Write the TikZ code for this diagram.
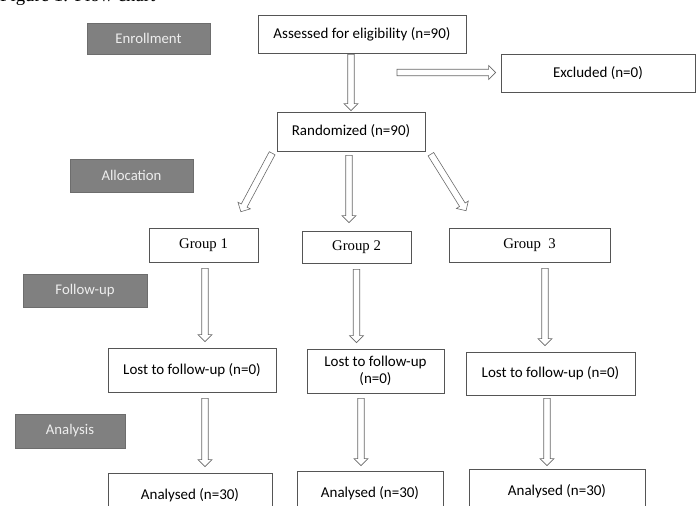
\documentclass[tikz,border=0pt]{standalone}
\usepackage{fontspec}
\setmainfont{Carlito}
\newfontfamily\timesf{Liberation Serif}
\usetikzlibrary{positioning,calc}
\definecolor{edge}{RGB}{85,85,85}
\definecolor{stage}{RGB}{128,128,128}
\definecolor{stagetext}{RGB}{238,238,238}
\definecolor{arrowc}{RGB}{105,105,105}
\tikzset{
  box/.style={draw=edge, line width=0.6pt, fill=white, inner sep=2pt, font=\fontsize{12.8}{15}\selectfont},
  grpbox/.style={box, font=\timesf\fontsize{12.6}{15}\selectfont},
  stagebox/.style={draw=stage!85!black, fill=stage, text=stagetext, line width=0.5pt, font=\fontsize{12.6}{15}\selectfont},
  hollow/.style={draw=arrowc, line width=0.5pt, fill=white, line join=miter}
}
% hollow block arrow between two points, [gap in px]
\newcommand{\hollowarrow}[3][5]{%
  \draw[hollow] let \p1=#2, \p2=#3,
      \n1={atan2(\y2-\y1,\x2-\x1)}, \n2={veclen(\x2-\x1,\y2-\y1)},
      \n3={#1*0.03cm} in
    [shift={(\p1)}, rotate=\n1]
    ({\n3},-2.8pt) -- ({\n2-\n3-6pt},-2.8pt) -- ({\n2-\n3-6pt},-6pt) -- ({\n2-\n3},0pt)
    -- ({\n2-\n3-6pt},6pt) -- ({\n2-\n3-6pt},2.8pt) -- ({\n3},2.8pt) -- cycle;}

\begin{document}
\begin{tikzpicture}[x=0.03cm, y=-0.03cm]
  \useasboundingbox (0,0) rectangle (700,506);
  \clip (0,0) rectangle (700,506);
  % caption, cut at the top
  \node[anchor=south west, inner sep=0pt, font=\timesf\fontsize{16}{18}\selectfont] (cap) at (0,6) {Figure 1: Flow chart};
  % stages
  \node[stagebox, minimum width=123*0.03cm, minimum height=31*0.03cm] (enro) at (148.5,38.5) {Enrollment};
  \node[stagebox, minimum width=123*0.03cm, minimum height=33*0.03cm] (allo) at (131.5,175.5) {Allocation};
  \node[stagebox, minimum width=124*0.03cm, minimum height=33*0.03cm] (foll) at (85,290.5) {Follow-up};
  \node[stagebox, minimum width=110*0.03cm, minimum height=34*0.03cm] (anal) at (70,431) {Analysis};
  % enrollment
  \node[box, minimum width=208*0.03cm, minimum height=38*0.03cm] (asse) at (362,34) {Assessed for eligibility (n=90)};
  \node[box, minimum width=194*0.03cm, minimum height=38*0.03cm] (excl) at (598,73) {Excluded (n=0)};
  \node[box, minimum width=148*0.03cm, minimum height=39*0.03cm] (rand) at (351,131.5) {Randomized (n=90)};
  % groups
  \node[grpbox, minimum width=109*0.03cm, minimum height=34*0.03cm] (g1) at (203.5,245) {Group 1};
  \node[grpbox, minimum width=109*0.03cm, minimum height=32*0.03cm] (g2) at (356.5,247) {Group 2};
  \node[grpbox, minimum width=161*0.03cm, minimum height=34*0.03cm] (g3) at (529.5,245) {Group\ \ 3};
  % follow-up
  \node[box, minimum width=168*0.03cm, minimum height=44*0.03cm] (l1) at (192,370) {Lost to follow-up (n=0)};
  \node[box, minimum width=137*0.03cm, minimum height=44*0.03cm, align=center] (l2) at (375.5,371) {Lost to follow-up\\(n=0)};
  \node[box, minimum width=169*0.03cm, minimum height=43*0.03cm] (l3) at (550.5,373.5) {Lost to follow-up (n=0)};
  % analysis
  \node[box, minimum width=164*0.03cm, minimum height=44*0.03cm] (a1) at (190,495) {Analysed (n=30)};
  \node[box, minimum width=146*0.03cm, minimum height=44*0.03cm] (a2) at (370,493) {Analysed (n=30)};
  \node[box, minimum width=176*0.03cm, minimum height=44*0.03cm] (a3) at (557,491) {Analysed (n=30)};
  % connectors
  \coordinate (exs) at (392,72.5);
  \coordinate (g1a) at ($(g1.south)+(1.5,0)$);
  \coordinate (g3a) at ($(g3.south)+(15.5,0)$);
  \coordinate (l1a) at (g1a |- l1.south);
  \coordinate (l2a) at ($(l2.south)+(-14.5,0)$);
  \coordinate (l3a) at ($(l3.south)+(-3.5,0)$);
  \hollowarrow[1]{(asse.south -| rand.north)}{(rand.north)}
  \hollowarrow{(exs)}{($(excl.west)+(0,-0.5)$)}
  \hollowarrow[1]{($(rand.south west)+(-4,1)$)}{($(g1.north east)+(-18,-15)$)}
  \hollowarrow[4]{($(rand.south)+(-2,0)$)}{($(g2.north)+(-7.5,-4)$)}
  \hollowarrow[1]{($(rand.south east)+(5,2)$)}{($(g3.north west)+(18,-16)$)}
  \hollowarrow[6]{(g1a)}{(g1a |- l1.north)}
  \hollowarrow[6]{(g2.south)}{(g2.south |- l2.north)}
  \hollowarrow[6]{(g3a)}{(g3a |- l3.north)}
  \hollowarrow[6]{(l1a)}{(l1a |- a1.north)}
  \hollowarrow[5]{(l2a)}{(l2a |- a2.north)}
  \hollowarrow[3]{(l3a)}{(l3a |- a3.north)}
\end{tikzpicture}
\end{document}
